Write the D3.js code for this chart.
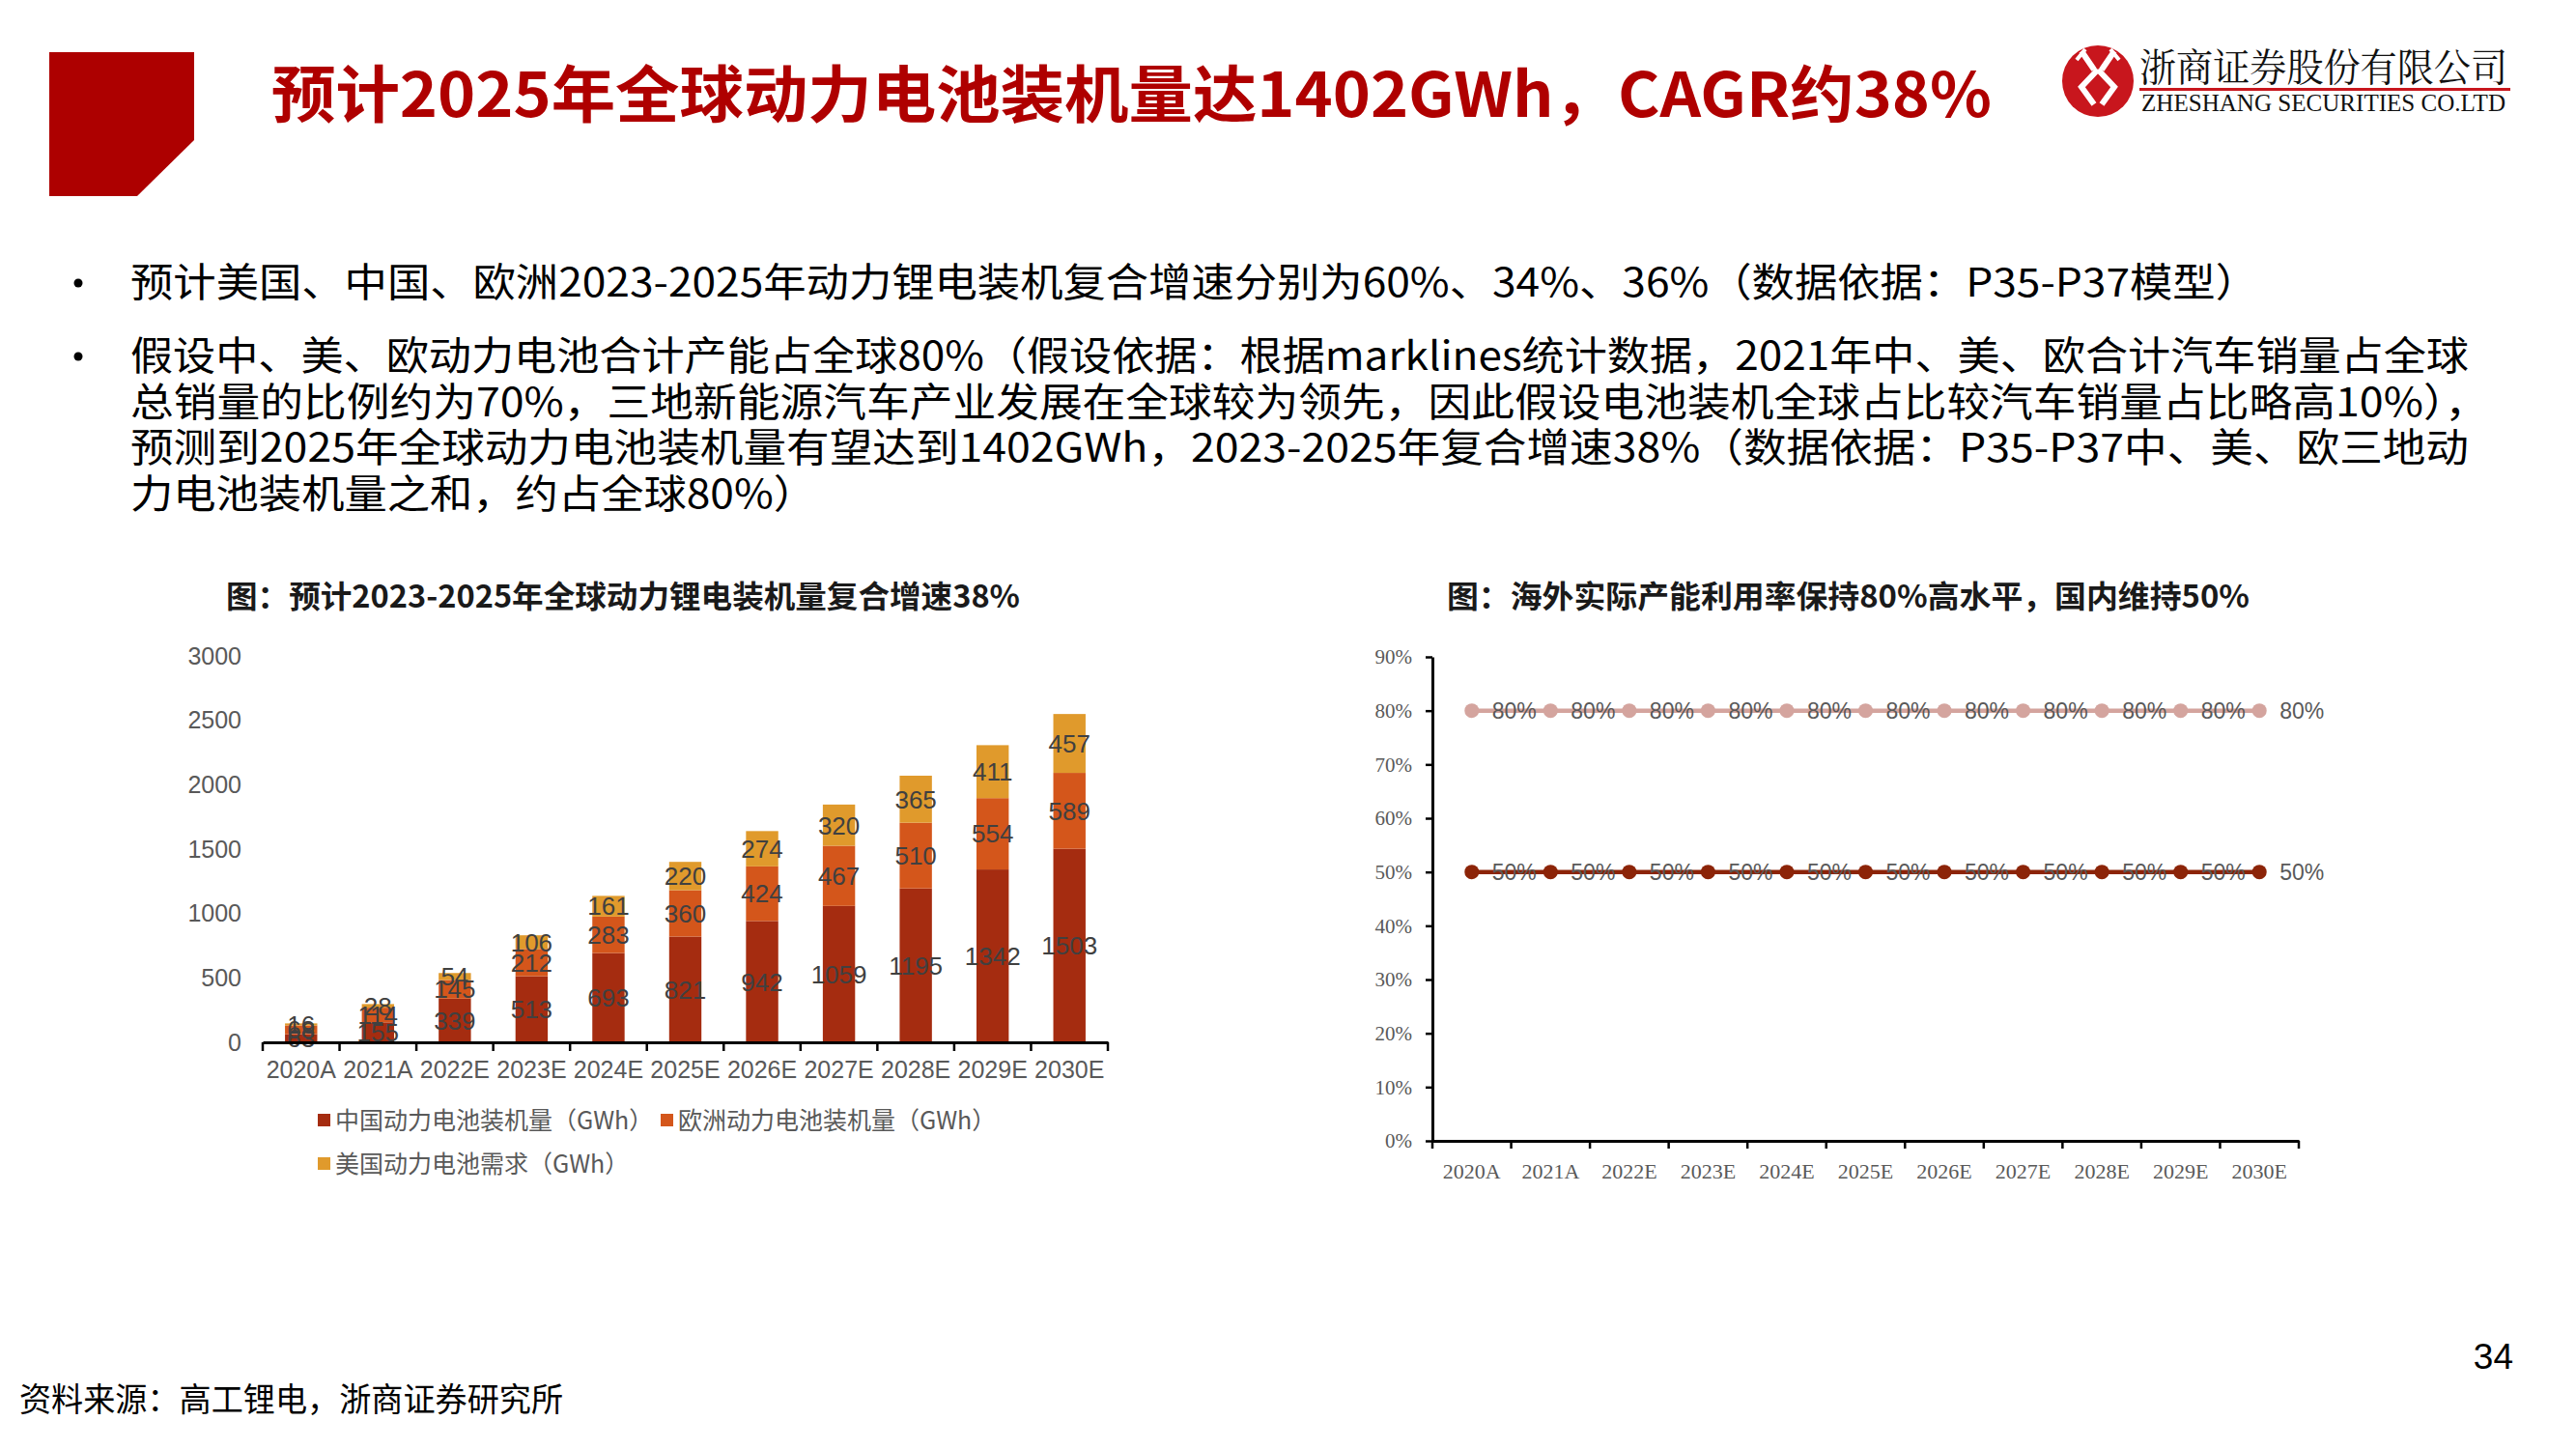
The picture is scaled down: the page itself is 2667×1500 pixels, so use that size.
<!DOCTYPE html>
<html><head><meta charset="utf-8">
<script src="https://cdn.jsdelivr.net/npm/d3@7"></script>
<style>
html,body{margin:0;padding:0;background:#fff;}
svg{display:block;}
</style></head>
<body>
<svg id="c" width="2667" height="1500"></svg>
<script>
// ---------- DATA ----------
const categories = ["2020A","2021A","2022E","2023E","2024E","2025E","2026E","2027E","2028E","2029E","2030E"];
const chinaInstall  = [63, 155, 339, 513, 693, 821, 942, 1059, 1195, 1342, 1503];
const europeInstall = [68, 114, 145, 212, 283, 360, 424, 467, 510, 554, 589];
const usDemand      = [16, 28, 54, 106, 161, 220, 274, 320, 365, 411, 457];
const leftTicks = [0, 500, 1000, 1500, 2000, 2500, 3000];
const seriesKeys = ["china", "europe", "us"];
const seriesNames = ["中国动力电池装机量（GWh）", "欧洲动力电池装机量（GWh）", "美国动力电池需求（GWh）"];
const seriesColors = ["#A52C10", "#D4561B", "#E09A2C"];

const overseasUtil = [0.8, 0.8, 0.8, 0.8, 0.8, 0.8, 0.8, 0.8, 0.8, 0.8, 0.8];
const domesticUtil = [0.5, 0.5, 0.5, 0.5, 0.5, 0.5, 0.5, 0.5, 0.5, 0.5, 0.5];
const rightTicks = [0, 0.1, 0.2, 0.3, 0.4, 0.5, 0.6, 0.7, 0.8, 0.9];
const lineColors = ["#D4A49E", "#8C2408"];

const pageTitle = "预计2025年全球动力电池装机量达1402GWh，CAGR约38%";
const bulletLines = [
  "预计美国、中国、欧洲2023-2025年动力锂电装机复合增速分别为60%、34%、36%（数据依据：P35-P37模型）",
  "假设中、美、欧动力电池合计产能占全球80%（假设依据：根据marklines统计数据，2021年中、美、欧合计汽车销量占全球",
  "总销量的比例约为70%，三地新能源汽车产业发展在全球较为领先，因此假设电池装机全球占比较汽车销量占比略高10%），",
  "预测到2025年全球动力电池装机量有望达到1402GWh，2023-2025年复合增速38%（数据依据：P35-P37中、美、欧三地动",
  "力电池装机量之和，约占全球80%）"
];
const leftTitle = "图：预计2023-2025年全球动力锂电装机量复合增速38%";
const rightTitle = "图：海外实际产能利用率保持80%高水平，国内维持50%";
const sourceText = "资料来源：高工锂电，浙商证券研究所";
const pageNum = "34";

// ---------- DRAW ----------
const svg = d3.select("#c");
const CJK = "'Noto Sans CJK SC','Noto Sans',sans-serif";
const SANS = "'Liberation Sans',Arial,sans-serif";
const SERIF = "'Liberation Serif','Times New Roman',serif";

function txt(x, y, s, o) {
  const t = svg.append("text").attr("x", x).attr("y", y).text(s)
    .attr("font-family", o.family || CJK)
    .attr("font-size", o.size)
    .attr("font-weight", o.weight || 400)
    .attr("fill", o.color || "#000");
  if (o.anchor) t.attr("text-anchor", o.anchor);
  if (o.len) t.attr("textLength", o.len).attr("lengthAdjust", "spacingAndGlyphs");
  return t;
}

// header block
svg.append("polygon").attr("points", "51,54 201,54 201,145 142,203 51,203").attr("fill", "#AD0000");
txt(281, 121, pageTitle, {size: 64, weight: 700, color: "#AF0000", len: 1781});

// logo
const logo = svg.append("g").attr("transform", "translate(2172,84)");
logo.append("circle").attr("r", 37).attr("fill", "#C8161D");
logo.append("path").attr("d", "M-17,-31 L-4,-12 M17,-31 L4,-12 M0,-12 L-17,6 L-4,24 M0,-12 L17,6 L4,24")
  .attr("fill", "none").attr("stroke", "#fff").attr("stroke-width", 6).attr("stroke-linejoin", "miter");
logo.append("path").attr("d", "M-13,-33 L-22,-22 M13,-33 L22,-22").attr("stroke", "#fff").attr("stroke-width", 4);
txt(2215, 84, "浙商证券股份有限公司", {size: 40, color: "#111", len: 381, family: "'Noto Serif CJK SC','Noto Sans CJK SC',serif"});
svg.append("rect").attr("x", 2215).attr("y", 91).attr("width", 384).attr("height", 3).attr("fill", "#C8161D");
txt(2217, 115, "ZHESHANG SECURITIES CO.LTD", {size: 26, family: SERIF, color: "#111", len: 377});

// bullets
const bulletBase = [307, 383, 431, 478, 526];
const bulletEnds = [2338, 2556, 2576, 2556, 845];
[0, 1].forEach(i => svg.append("circle").attr("cx", 81).attr("cy", bulletBase[i] - 14).attr("r", 4.5).attr("fill", "#000"));
bulletLines.forEach((s, i) => txt(135, bulletBase[i], s, {size: 41, color: "#000", len: bulletEnds[i] - 135}));

// footer
txt(20, 1461, sourceText, {size: 34, color: "#000", len: 563});
txt(2602, 1417, pageNum, {size: 37, family: SANS, color: "#000", anchor: "end"});

// ---------- LEFT CHART: stacked bars ----------
txt(234, 629, leftTitle, {size: 32, weight: 700, color: "#1a1a1a", len: 822});

const xL = d3.scaleBand().domain(categories).range([272, 1147]).padding(0);
const yL = d3.scaleLinear().domain([0, 3000]).range([1079, 679]);
const barW = xL.bandwidth() * 0.42;

const rows = categories.map((c, i) => ({cat: c, china: chinaInstall[i], europe: europeInstall[i], us: usDemand[i]}));
const stacked = d3.stack().keys(seriesKeys)(rows);

const gL = svg.append("g");
stacked.forEach((layer, li) => {
  gL.append("g").selectAll("rect").data(layer).join("rect")
    .attr("x", d => xL(d.data.cat) + (xL.bandwidth() - barW) / 2)
    .attr("y", d => yL(d[1]))
    .attr("width", barW)
    .attr("height", d => yL(d[0]) - yL(d[1]))
    .attr("fill", seriesColors[li]);
});
stacked.forEach((layer) => {
  gL.append("g").selectAll("text").data(layer).join("text")
    .attr("x", d => xL(d.data.cat) + xL.bandwidth() / 2)
    .attr("y", d => yL((d[0] + d[1]) / 2))
    .attr("dy", "0.36em")
    .attr("text-anchor", "middle")
    .attr("font-family", SANS).attr("font-size", 26).attr("fill", "#404040")
    .text(d => d[1] - d[0]);
});

// y axis (labels only)
const yAxL = svg.append("g").attr("transform", "translate(272,0)")
  .call(d3.axisLeft(yL).tickValues(leftTicks).tickSize(0).tickPadding(22).tickFormat(d3.format("d")));
yAxL.select(".domain").remove();
yAxL.selectAll("text").attr("font-family", SANS).attr("font-size", 25).attr("fill", "#595959");

// x axis
const xAxL = svg.append("g").attr("transform", "translate(0,1079)")
  .call(d3.axisBottom(xL).tickSize(0).tickPadding(19).tickSizeOuter(0));
xAxL.select(".domain").attr("stroke", "#000").attr("stroke-width", 3);
xAxL.selectAll("text").attr("font-family", SANS).attr("font-size", 25).attr("fill", "#595959");
const edgesL = categories.map(c => xL(c)).concat([xL.range()[1]]);
svg.append("g").selectAll("line").data(edgesL).join("line")
  .attr("x1", d => d).attr("x2", d => d).attr("y1", 1079).attr("y2", 1088)
  .attr("stroke", "#000").attr("stroke-width", 2.5);

// legend
const legendPos = [[329, 1160], [684, 1160], [329, 1205]];
seriesNames.forEach((n, i) => {
  const [lx, ly] = legendPos[i];
  svg.append("rect").attr("x", lx).attr("y", ly - 7).attr("width", 13).attr("height", 13).attr("fill", seriesColors[i]);
  txt(lx + 18, ly + 9, n, {size: 25, color: "#595959"});
});

// ---------- RIGHT CHART: lines ----------
txt(1498, 629, rightTitle, {size: 32, weight: 700, color: "#1a1a1a", len: 831});

const xR = d3.scaleBand().domain(categories).range([1483, 2380]).padding(0);
const yR = d3.scaleLinear().domain([0, 0.9]).range([1181, 680]);

const yAxR = svg.append("g").attr("transform", "translate(1483,0)")
  .call(d3.axisLeft(yR).tickValues(rightTicks).tickSize(7).tickSizeOuter(0).tickPadding(14).tickFormat(d3.format(".0%")));
yAxR.select(".domain").attr("stroke", "#000").attr("stroke-width", 3);
yAxR.selectAll(".tick line").attr("stroke", "#000").attr("stroke-width", 2.5);
yAxR.selectAll("text").attr("font-family", SERIF).attr("font-size", 21).attr("fill", "#595959");

const xAxR = svg.append("g").attr("transform", "translate(0,1181)")
  .call(d3.axisBottom(xR).tickSize(0).tickPadding(23).tickSizeOuter(0));
xAxR.select(".domain").attr("stroke", "#000").attr("stroke-width", 3);
xAxR.selectAll("text").attr("font-family", SERIF).attr("font-size", 22).attr("fill", "#595959");
const edgesR = categories.map(c => xR(c)).concat([xR.range()[1]]);
svg.append("g").selectAll("line").data(edgesR).join("line")
  .attr("x1", d => d).attr("x2", d => d).attr("y1", 1181).attr("y2", 1189)
  .attr("stroke", "#000").attr("stroke-width", 2.5);

const cx = c => xR(c) + xR.bandwidth() / 2;
[overseasUtil, domesticUtil].forEach((vals, si) => {
  const pts = categories.map((c, i) => ({c, v: vals[i]}));
  const g = svg.append("g");
  g.append("path").datum(pts)
    .attr("d", d3.line().x(d => cx(d.c)).y(d => yR(d.v)))
    .attr("fill", "none").attr("stroke", lineColors[si]).attr("stroke-width", 4.5);
  g.selectAll("circle").data(pts).join("circle")
    .attr("cx", d => cx(d.c)).attr("cy", d => yR(d.v)).attr("r", 7.5)
    .attr("fill", lineColors[si]);
  g.selectAll("text").data(pts).join("text")
    .attr("x", d => cx(d.c) + 21).attr("y", d => yR(d.v)).attr("dy", "0.36em")
    .attr("font-family", SANS).attr("font-size", 23).attr("fill", "#595959")
    .text(d => d3.format(".0%")(d.v));
});
</script>
</body></html>
